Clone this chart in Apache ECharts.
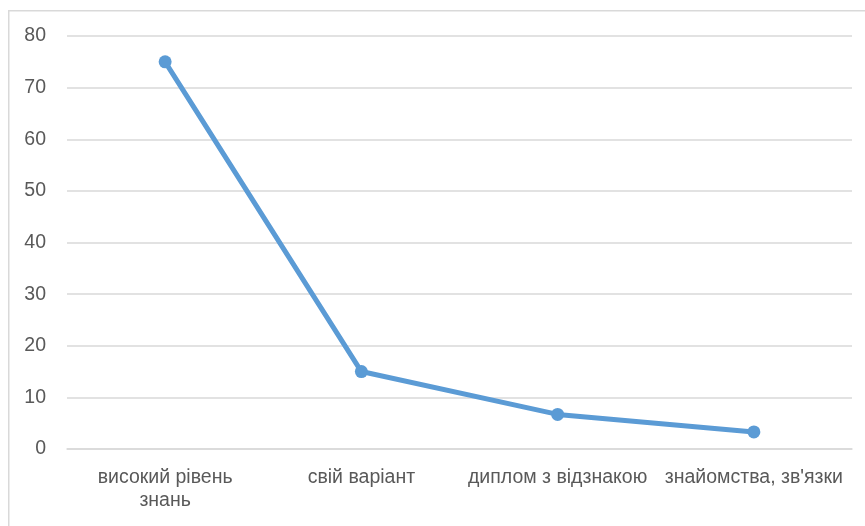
<!DOCTYPE html>
<html>
<head>
<meta charset="utf-8">
<script src="https://cdn.jsdelivr.net/npm/echarts@6/dist/echarts.min.js"></script>
<style>html,body{margin:0;padding:0;background:#fff}#c{width:865px;height:526px}</style>
</head>
<body>
<div id="c"></div>
<script>
const categories = ['високий рівень знань', 'свій варіант', 'диплом з відзнакою', 'знайомства, зв\'язки'];
const values = [75, 15, 6.7, 3.3];
const yTicks = { min: 0, max: 80, interval: 10 };

const chart = echarts.init(document.getElementById('c'), null, { renderer: 'canvas' });
const font = '"Liberation Sans", sans-serif';
chart.setOption({
  animation: false,
  graphic: [{
    type: 'rect', left: 8, top: 10, z: -1,
    shape: { width: 900, height: 600 },
    style: { fill: '#fff', stroke: '#d9d9d9', lineWidth: 1.5 }
  }],
  grid: { left: 67, right: 13, top: 36, bottom: 77, containLabel: false },
  xAxis: {
    type: 'category', data: categories, boundaryGap: true,
    axisLine: { show: true, lineStyle: { color: '#d9d9d9', width: 1.5 } },
    axisTick: { show: false },
    axisLabel: {
      color: '#595959', fontFamily: font, fontSize: 19.5, margin: 17, lineHeight: 23, interval: 0,
      formatter: function (v) { return v === categories[0] ? v.replace(' знань', '\nзнань') : v; }
    }
  },
  yAxis: {
    type: 'value', min: yTicks.min, max: yTicks.max, interval: yTicks.interval,
    axisLine: { show: false }, axisTick: { show: false },
    axisLabel: { color: '#595959', fontFamily: font, fontSize: 19.5, margin: 21 },
    splitLine: { lineStyle: { color: '#d9d9d9', width: 1.5 } }
  },
  series: [{
    type: 'line', data: values,
    lineStyle: { color: '#5b9bd5', width: 5, cap: 'round' },
    itemStyle: { color: '#5b9bd5' },
    symbol: 'circle', symbolSize: 13, showSymbol: true
  }]
});
</script>
</body>
</html>
